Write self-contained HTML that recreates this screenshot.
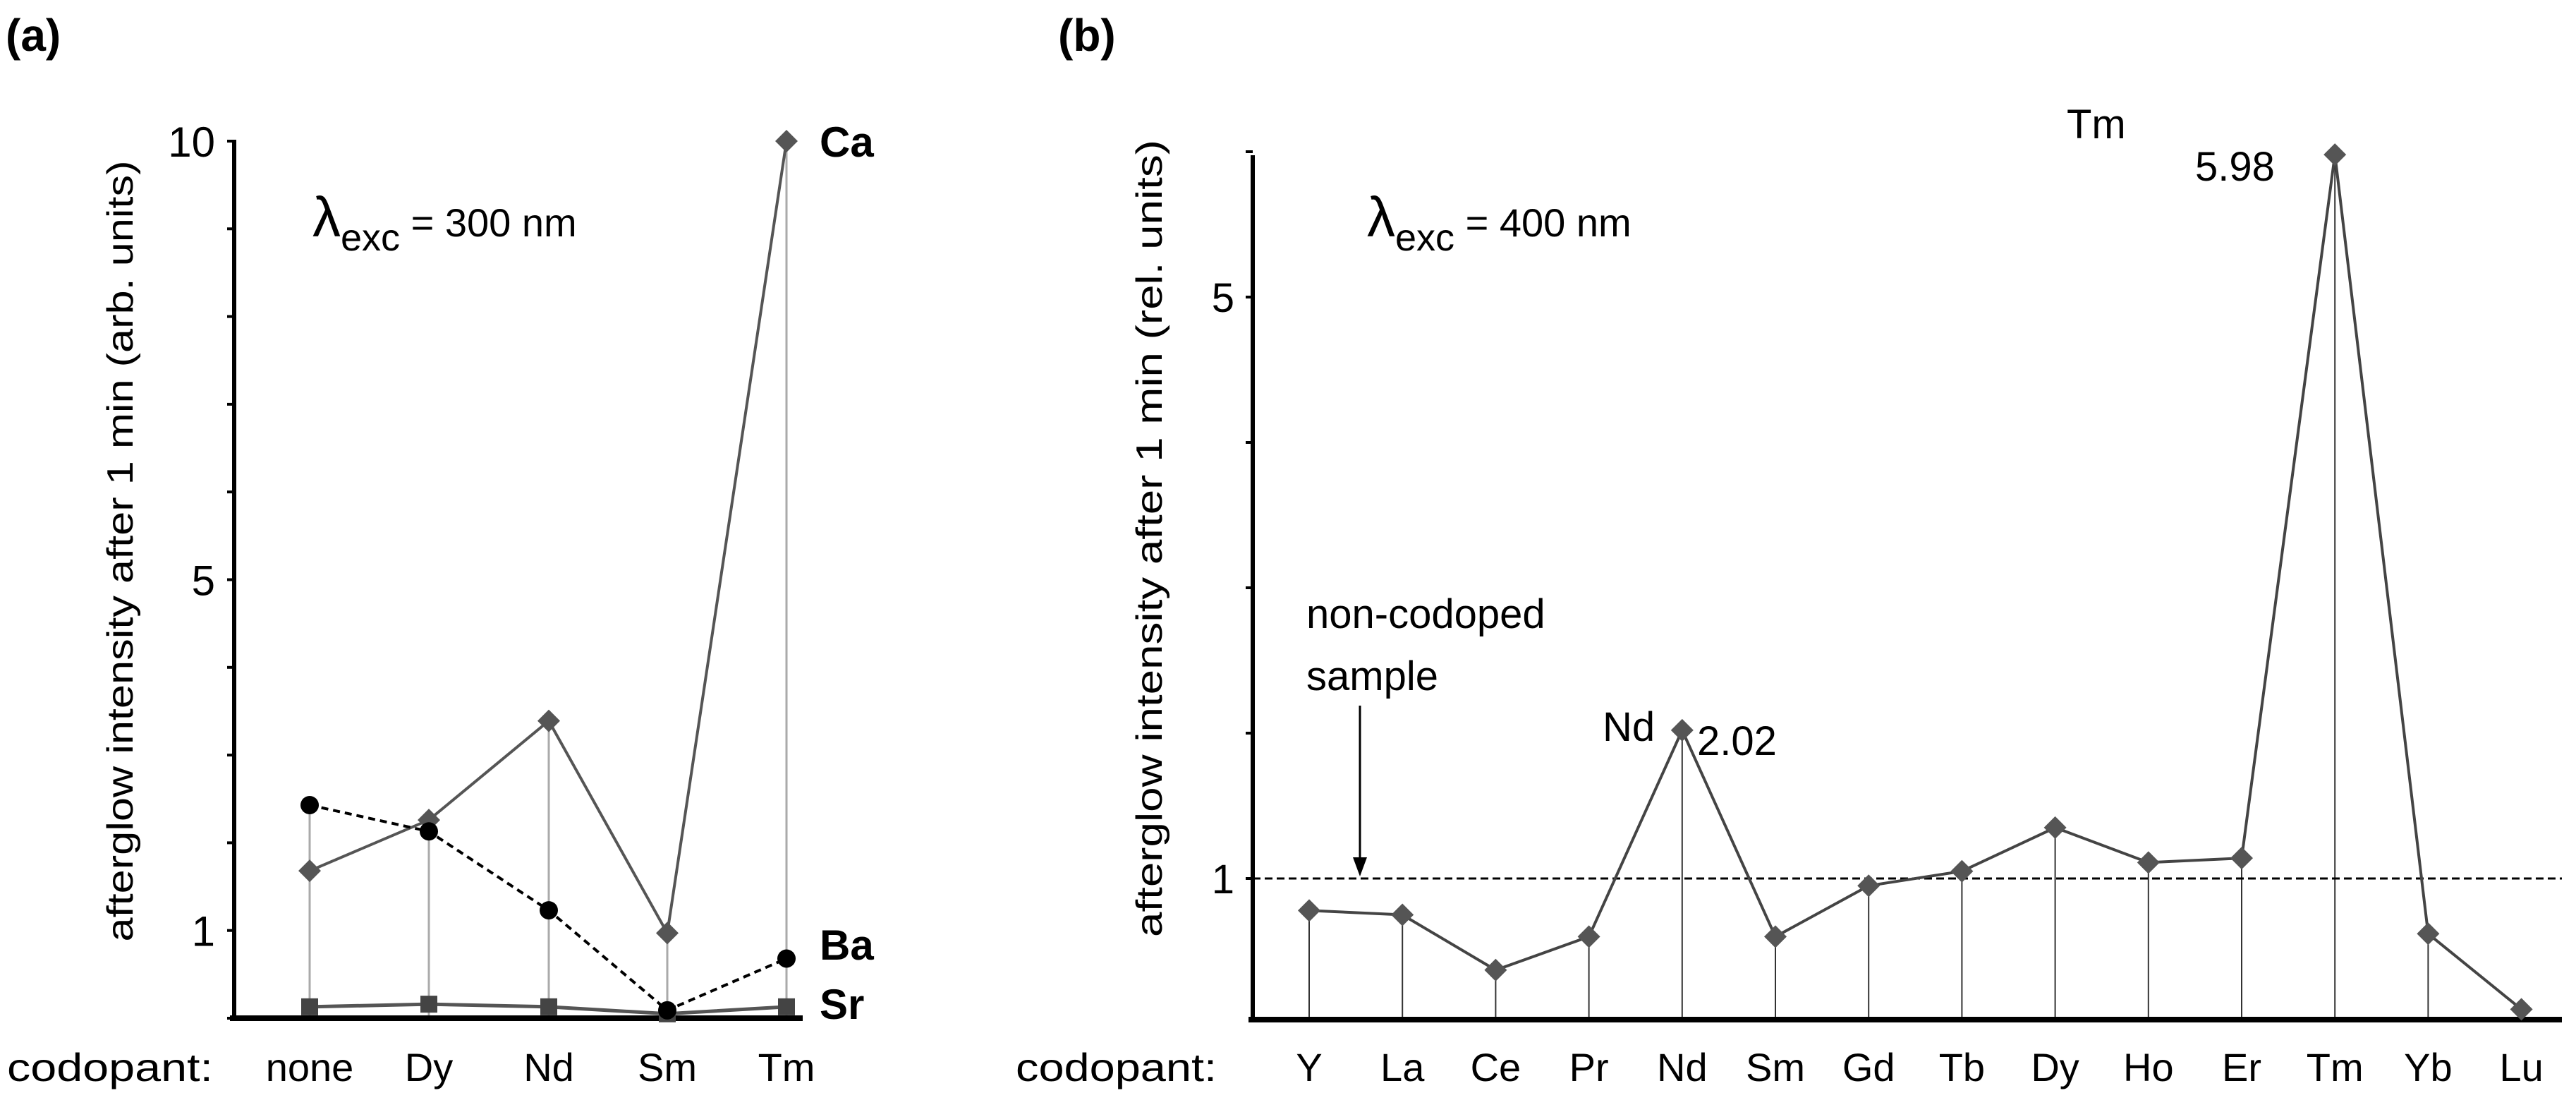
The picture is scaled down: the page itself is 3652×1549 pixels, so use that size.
<!DOCTYPE html>
<html><head><meta charset="utf-8"><style>
html,body{margin:0;padding:0;background:#fff;}
svg{display:block;font-family:"Liberation Sans",sans-serif;}
</style></head><body>
<svg id="fig" width="3652" height="1549" viewBox="0 0 3652 1549" xmlns="http://www.w3.org/2000/svg">
<g id="pa"></g>
<g id="pb"></g>
</svg>
<script>
const catsA = ["none","Dy","Nd","Sm","Tm"];
const caVals = [1.68,2.26,3.39,0.97,10];
const baVals = [2.43,2.13,1.23,0.09,0.68];
const srVals = [0.13,0.16,0.13,0.05,0.13];
const ticksA = [1,5,10];
const catsB = ["Y","La","Ce","Pr","Nd","Sm","Gd","Tb","Dy","Ho","Er","Tm","Yb","Lu"];
const valsB = [0.78,0.75,0.37,0.60,2.02,0.60,0.95,1.05,1.35,1.11,1.14,5.98,0.62,0.10];
const ticksB = [1,5];
const refB = 1;

const NS="http://www.w3.org/2000/svg";
function mk(parent,tag,attrs,text){const e=document.createElementNS(NS,tag);for(const k in attrs)e.setAttribute(k,attrs[k]);if(text!==undefined)e.textContent=text;parent.appendChild(e);return e;}

// ---------- Panel A ----------
const pa=document.getElementById('pa');
const xA=i=>[439,608,778,946,1115][i];
const yA=v=>1443-v*124.3;
let t;
t=mk(pa,'text',{x:8,y:72,'font-size':64,'font-weight':'bold'},'(a)');

catsA.forEach((c,i)=>{const m=Math.max(caVals[i],baVals[i],srVals[i]);
 const s=mk(pa,'line',{x1:xA(i),x2:xA(i),y1:yA(0),y2:yA(m),stroke:'#aaa','stroke-width':3});
 });
t=mk(pa,'line',{x1:332,x2:332,y1:198,y2:1446,stroke:'#000','stroke-width':6});

for(let v=0;v<=10;v++){const k=mk(pa,'line',{x1:322,x2:332,y1:yA(v),y2:yA(v),stroke:'#000','stroke-width':4});
 }
ticksA.forEach(v=>{const l=mk(pa,'text',{x:305,y:yA(v)+22,'font-size':60,'text-anchor':'end'},String(v));
 });
t=mk(pa,'line',{x1:326,x2:1138,y1:1443,y2:1443,stroke:'#000','stroke-width':8});

t=mk(pa,'text',{x:10,y:1532,'font-size':56,textLength:292,lengthAdjust:'spacingAndGlyphs'},'codopant:');

catsA.forEach((c,i)=>{const l=mk(pa,'text',{x:xA(i),y:1532,'font-size':56,'text-anchor':'middle'},c);
 });
t=mk(pa,'text',{x:0,y:0,'font-size':52,'text-anchor':'middle',textLength:1107,lengthAdjust:'spacingAndGlyphs',transform:'translate(188,781) rotate(-90)'},'afterglow intensity after 1 min (arb. units)');

t=mk(pa,'text',{x:443,y:335,'font-size':56},'');

mk(t,'tspan',{'font-size':80},'λ');mk(t,'tspan',{dy:20,'font-size':54},'exc');mk(t,'tspan',{dy:-20,'font-size':56},' = 300 nm');
function line(parent,xs,ys,vals,attrs,name){const p=vals.map((v,i)=>xs(i)+','+ys(v)).join(' ');
 const e=mk(parent,'polyline',Object.assign({points:p,fill:'none'},attrs));}
line(pa,xA,yA,srVals,{stroke:'#555','stroke-width':5},'line-sr');
line(pa,xA,yA,caVals,{stroke:'#555','stroke-width':4},'line-ca');
line(pa,xA,yA,baVals,{stroke:'#000','stroke-width':4,'stroke-dasharray':'10,7'},'line-ba');
function diamond(parent,x,y,r,name){const e=mk(parent,'polygon',{points:`${x},${y-r} ${x+r},${y} ${x},${y+r} ${x-r},${y}`,fill:'#555'});}
srVals.forEach((v,i)=>{const e=mk(pa,'rect',{x:xA(i)-12,y:yA(v)-12,width:24,height:24,fill:'#444'});});
caVals.forEach((v,i)=>diamond(pa,xA(i),yA(v),16,'point-ca'));
baVals.forEach((v,i)=>{const e=mk(pa,'circle',{cx:xA(i),cy:yA(v),r:13,fill:'#000'});});
[['Ca',222],['Ba',1360],['Sr',1444]].forEach(([s,y])=>{const l=mk(pa,'text',{x:1162,y:y,'font-size':60,'font-weight':'bold'},s);
 });

// ---------- Panel B ----------
const pb=document.getElementById('pb');
const xB=i=>1856+i*132.2;
const yB=v=>1451-v*206;
t=mk(pb,'text',{x:1500,y:72,'font-size':64,'font-weight':'bold'},'(b)');

valsB.forEach((v,i)=>{const s=mk(pb,'line',{x1:xB(i),x2:xB(i),y1:1445,y2:yB(v),stroke:'#333','stroke-width':2});
 });
t=mk(pb,'line',{x1:1776,x2:1776,y1:220,y2:1448,stroke:'#000','stroke-width':6});

for(let v=1;v<=6;v++){const k=mk(pb,'line',{x1:1766,x2:1776,y1:yB(v),y2:yB(v),stroke:'#000','stroke-width':4});
 }
ticksB.forEach(v=>{const l=mk(pb,'text',{x:1750,y:yB(v)+21,'font-size':58,'text-anchor':'end'},String(v));
 });
t=mk(pb,'line',{x1:1770,x2:3632,y1:1445,y2:1445,stroke:'#000','stroke-width':8});

t=mk(pb,'line',{x1:1776,x2:3632,y1:yB(refB),y2:yB(refB),stroke:'#000','stroke-width':3,'stroke-dasharray':'11,6'});

t=mk(pb,'text',{x:1440,y:1532,'font-size':56,textLength:285,lengthAdjust:'spacingAndGlyphs'},'codopant:');

catsB.forEach((c,i)=>{const l=mk(pb,'text',{x:xB(i),y:1532,'font-size':56,'text-anchor':'middle'},c);
 });
t=mk(pb,'text',{x:0,y:0,'font-size':52,'text-anchor':'middle',textLength:1130,lengthAdjust:'spacingAndGlyphs',transform:'translate(1647,763) rotate(-90)'},'afterglow intensity after 1 min (rel. units)');

t=mk(pb,'text',{x:1938,y:335,'font-size':56},'');

mk(t,'tspan',{'font-size':80},'λ');mk(t,'tspan',{dy:20,'font-size':54},'exc');mk(t,'tspan',{dy:-20,'font-size':56},' = 400 nm');
line(pb,xB,yB,valsB,{stroke:'#444','stroke-width':4},'line-b');
valsB.forEach((v,i)=>diamond(pb,xB(i),yB(v),16,'point-b'));
[['Tm',2930,196],['5.98',3112,256],['Nd',2272,1050],['2.02',2406,1070],['non-codoped',1852,890],['sample',1852,978]].forEach(([s,x,y])=>{
 const l=mk(pb,'text',{x:x,y:y,'font-size':58},s);});
t=mk(pb,'line',{x1:1928,x2:1928,y1:1000,y2:1225,stroke:'#000','stroke-width':3});

t=mk(pb,'polygon',{points:'1918,1215 1938,1215 1928,1242',fill:'#000'});

</script>
</body></html>
